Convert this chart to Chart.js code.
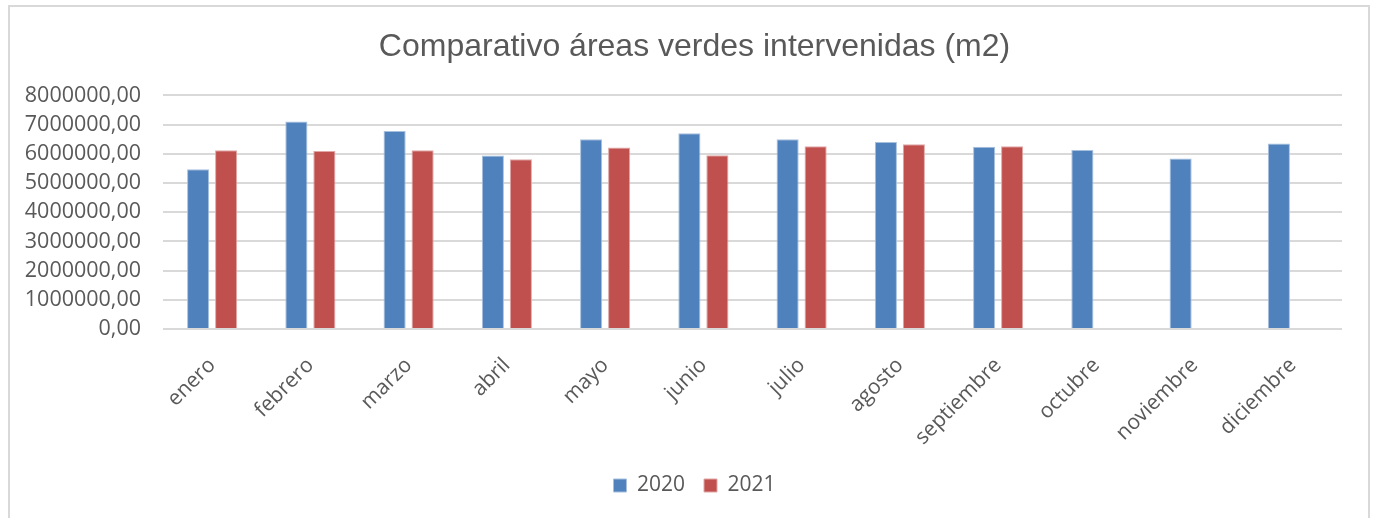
<!DOCTYPE html>
<html>
<head>
<meta charset="utf-8">
<script src="https://cdn.jsdelivr.net/npm/chart.js@4"></script>
<style>
html,body{margin:0;padding:0;background:#fff;overflow:hidden;}
#wrap{position:absolute;left:0;top:0;width:1379px;height:518px;}
#frame{position:absolute;left:8px;top:5px;width:1362px;height:530px;border:2px solid #d9d9d9;box-sizing:border-box;pointer-events:none;}
canvas{position:absolute;left:0;top:0;}
</style>
</head>
<body>
<div id="wrap"><canvas id="c" width="1379" height="518"></canvas><div id="frame"></div></div>
<script>
const categories = ['enero','febrero','marzo','abril','mayo','junio','julio','agosto','septiembre','octubre','noviembre','diciembre'];
const series2020 = [5470000, 7110000, 6780000, 5940000, 6500000, 6700000, 6500000, 6400000, 6240000, 6130000, 5840000, 6350000];
const series2021 = [6120000, 6100000, 6120000, 5810000, 6220000, 5950000, 6260000, 6330000, 6260000, null, null, null];
const yTicks = [0,1000000,2000000,3000000,4000000,5000000,6000000,7000000,8000000];
const titleText = 'Comparativo áreas verdes intervenidas (m2)';

new Chart(document.getElementById('c'), {
  type: 'bar',
  data: {
    labels: categories,
    datasets: [
      {label:'2020', data: series2020, backgroundColor:'#4f81bd', borderColor:'#a7c0de', borderWidth:1},
      {label:'2021', data: series2021, backgroundColor:'#c0504d', borderColor:'#e0a7a6', borderWidth:1}
    ]
  },
  options: {
    responsive:false,
    animation:false,
    layout:{padding:{left:10,right:0,top:13,bottom:12}},
    categoryPercentage:0.57,
    barPercentage:0.79,
    plugins:{
      title:{display:true,text:titleText,color:'#595959',font:{family:'Liberation Sans, Arial',size:32,weight:'normal'},padding:{top:15,bottom:29}},
      legend:{position:'bottom',labels:{color:'#595959',font:{family:'Open Sans',size:21},boxWidth:13,boxHeight:13,padding:19}},
      tooltip:{enabled:false}
    },
    scales:{
      x:{
        grid:{display:false},
        border:{display:false},
        ticks:{color:'#595959',font:{family:'Open Sans',size:21},minRotation:45,maxRotation:45,padding:16},
        afterFit:(s)=>{s.height=127;}
      },
      y:{
        min:0,max:8000000,
        afterBuildTicks:(s)=>{s.ticks=yTicks.map(v=>({value:v}));},
        grid:{color:'#d9d9d9',lineWidth:2,drawTicks:false},
        border:{display:false},
        ticks:{color:'#595959',font:{family:'Open Sans',size:21.5},padding:22,callback:(v)=>Number(v).toFixed(2).replace('.',',')},
        afterFit:(s)=>{s.width=153;}
      },
      ySpacer:{
        position:'right',
        display:true,
        grid:{display:false},
        border:{display:false},
        ticks:{display:false},
        afterFit:(s)=>{s.width=37;}
      }
    }
  }
});
</script>
</body>
</html>
